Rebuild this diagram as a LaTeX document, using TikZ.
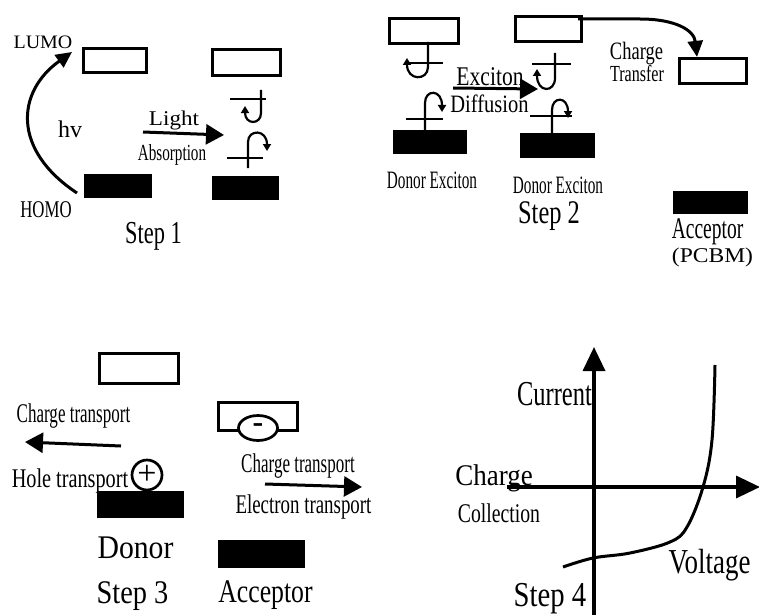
\documentclass[tikz,border=0pt]{standalone}
\usepackage{fontspec}
\setmainfont{Liberation Serif}
\usetikzlibrary{arrows.meta,positioning,shapes.geometric,calc}
\tikzset{
  lvl/.style={draw, rectangle, line width=2.7pt, inner sep=0pt},
  occ/.style={fill=black, rectangle, inner sep=0pt},
  lab/.style 2 args={inner sep=0pt, anchor=base, font=\fontsize{#1}{#1}\selectfont\addfontfeature{FakeStretch=#2}},
  arr/.style={-{Triangle[length=18pt,width=20pt]}, line width=3pt},
  carr/.style={-{Triangle[length=16pt,width=15pt]}, line width=3pt},
  spin/.style={line width=2.2pt},
  sarr/.style={spin, -{Triangle[length=7pt,width=8pt]}},
  axis/.style={-{Triangle[length=24pt,width=22pt]}, line width=3.5pt}
}

\begin{document}
\begin{tikzpicture}[x=1pt, y=-1pt]
\useasboundingbox (0,0) rectangle (759,615);

\node[lvl, minimum width=63.5pt, minimum height=24.5pt] (l1) at (115,60.5) {};
\node[lvl, minimum width=68.5pt, minimum height=26.5pt] (l2) at (246.5,62.5) {};
\node[occ, minimum width=68pt, minimum height=24pt] (h1) at (118,186) {};
\node[occ, minimum width=67pt, minimum height=24pt] (h2) at (245.5,188) {};
\node[lab={19}{1.05}] (lumo) at (43,49) {LUMO};
\node[lab={24}{0.7}] (homo) at (46,217) {HOMO};
\node[lab={24}{1}] (hv) at (70,137) {hv};
\node[lab={21}{1.1}] (light) at (174,125) {Light};
\node[lab={23}{0.66}] (absorb) at (172,160) {Absorption};
\node[lab={32}{0.7}] (step1) at (153.5,243) {Step 1};
\coordinate (hvs) at (77,193);
\coordinate (hve) at (72,52);
\draw[carr] (hvs) .. controls (12,150) and (16,92) .. (hve);
\coordinate (la1) at (143,132);
\coordinate (la2) at (224,135);
\draw[arr] (la1) -- (la2);
\draw[spin] (230,99) -- (266,99);
\draw[sarr] (261,90) -- (261,113) .. controls (261,125) and (245,125) .. (245,106);
\draw[spin] (227,158) -- (263,158);
\draw[sarr] (248,168) -- (248,142) .. controls (248,129) and (267,129) .. (267,151);

\node[lvl, minimum width=69.5pt, minimum height=25.5pt] (la) at (424,31) {};
\node[lvl, minimum width=66.5pt, minimum height=25.5pt] (lb) at (548.5,29) {};
\node[lvl, minimum width=67.5pt, minimum height=25.5pt] (lc) at (713,71) {};
\node[occ, minimum width=74pt, minimum height=24pt] (ha) at (430,142) {};
\node[occ, minimum width=75pt, minimum height=25pt] (hb) at (557.5,145.5) {};
\node[occ, minimum width=75pt, minimum height=23pt] (hc) at (710.5,202.5) {};
\node[lab={25}{0.74}] (charge) at (636.5,60) {Charge};
\node[lab={23}{0.7}] (transfer) at (637,82) {Transfer};
\node[lab={27}{0.8}] (exciton) at (490,85) {Exciton};
\node[lab={25}{0.82}] (diffusion) at (489.5,112) {Diffusion};
\node[lab={25}{0.61}] (dex1) at (432,188) {Donor Exciton};
\node[lab={25}{0.61}] (dex2) at (558,193) {Donor Exciton};
\node[lab={33}{0.74}] (step2) at (549,223) {Step 2};
\node[lab={30}{0.65}] (acc1) at (707.5,238) {Acceptor};
\node[lab={21}{1.12}] (pcbm) at (712.5,262) {(PCBM)};
\draw[carr] ($(lb.north east)+(-5,4)$) -- (640,19) .. controls (675,19) and (694,30) .. ([xshift=-16pt]lc.north);
\coordinate (ex1) at (453,88);
\coordinate (ex2) at (538,89);
\draw[arr] (ex1) -- (ex2);
\draw[spin] (405,63) -- (443,63);
\draw[sarr] (428,42) -- (428,67) .. controls (428,81) and (407,81) .. (407,58);
\draw[spin] (406,119) -- (443,119);
\draw[sarr] (425,130) -- (425,103) .. controls (425,89) and (442,89) .. (442,112);
\draw[spin] (532,64) -- (571,64);
\draw[sarr] (555,53) -- (555,78) .. controls (555,93) and (537,93) .. (537,69);
\draw[spin] (530,116) -- (572,116);
\draw[sarr] (552,133) -- (552,110) .. controls (552,96) and (568,96) .. (568,118);

\node[lvl, minimum width=79.5pt, minimum height=30.5pt] (ld) at (139,368.5) {};
\node[occ, minimum width=87pt, minimum height=27pt] (hd) at (140.5,504.5) {};
\node[lvl, minimum width=79.5pt, minimum height=28.5pt] (le) at (258,416.5) {};
\node[occ, minimum width=87pt, minimum height=28pt] (he) at (261.5,554) {};
\node[draw, ellipse, line width=2.7pt, fill=white, minimum width=39pt, minimum height=25pt, inner sep=0pt, font=\bfseries\fontsize{32}{32}\selectfont] (elec) at (258,428) {-};
\node[draw, circle, line width=2.7pt, minimum size=30pt, inner sep=0pt, font=\fontsize{34}{34}\selectfont] (hole) at (147,475) {+};
\node[lab={27}{0.63}] (ct1) at (73.5,422) {Charge transport};
\node[lab={27}{0.75}] (htr) at (70,487) {Hole transport};
\node[lab={27}{0.63}] (ct2) at (298,472) {Charge transport};
\node[lab={27}{0.7}] (etr) at (303.5,513) {Electron transport};
\node[lab={33}{0.9}] (donor) at (135.5,558) {Donor};
\node[lab={33}{0.86}] (step3) at (132.5,603) {Step 3};
\node[lab={33}{0.78}] (acc2) at (265.5,602) {Acceptor};
\coordinate (ht1) at (121,446);
\coordinate (ht2) at (25,442);
\draw[arr] (ht1) -- (ht2);
\coordinate (et1) at (265,484);
\coordinate (et2) at (362,487);
\draw[arr] (et1) -- (et2);

\coordinate (yb) at (594,615);
\coordinate (yt) at (594,347);
\coordinate (xl) at (507,487);
\coordinate (xr) at (760,487);
\draw[axis] (yb) -- (yt);
\draw[axis] (xl) -- (xr);
\draw[line width=3pt] plot[smooth, tension=0.6] coordinates {(563,567) (593,558) (630,553) (670,542) (687,527) (703,487) (712,440) (715,365)};
\node[lab={35}{0.7}] (current) at (554.5,405) {Current};
\node[lab={30}{0.9}] (charge4) at (494,485) {Charge};
\node[lab={27}{0.73}] (collect) at (499,522) {Collection};
\node[lab={35}{0.77}] (voltage) at (709.5,573) {Voltage};
\node[lab={35}{0.82}] (step4) at (550,606) {Step 4};
\end{tikzpicture}
\end{document}
